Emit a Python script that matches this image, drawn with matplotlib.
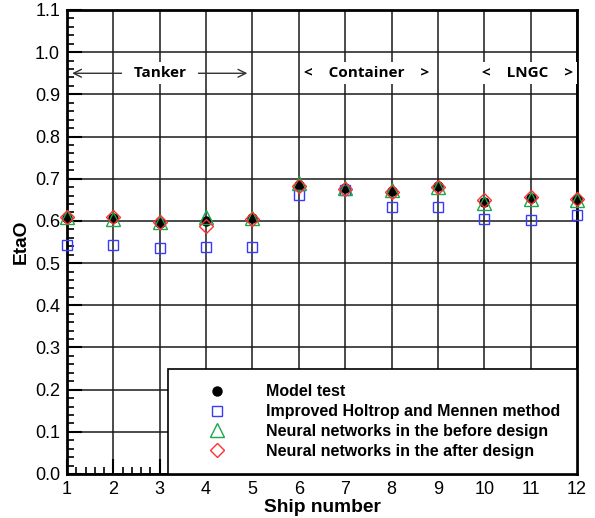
import numpy as np
import matplotlib
matplotlib.use('Agg')
import matplotlib.pyplot as plt
from matplotlib.ticker import MultipleLocator, FormatStrFormatter

plt.rcParams['font.family'] = ['Liberation Sans', 'DejaVu Sans']

# Data
ship = np.arange(1, 13)
model_test = [0.606, 0.607, 0.595, 0.599, 0.606, 0.684, 0.678, 0.670, 0.683, 0.645, 0.654, 0.652]
holtrop = [0.543, 0.543, 0.535, 0.538, 0.538, 0.662, 0.674, 0.634, 0.632, 0.605, 0.602, 0.613]
nn_before = [0.610, 0.604, 0.597, 0.610, 0.608, 0.690, 0.679, 0.674, 0.681, 0.642, 0.651, 0.650]
nn_after = [0.610, 0.610, 0.597, 0.588, 0.605, 0.683, 0.676, 0.668, 0.681, 0.649, 0.656, 0.653]

labels = ['Model test', 'Improved Holtrop and Mennen method',
          'Neural networks in the before design', 'Neural networks in the after design']

fig = plt.figure(figsize=(5.95, 5.18), dpi=100)
ax = fig.add_axes([67 / 595, 1 - 474 / 518, 510 / 595, 464 / 518])

ax.plot(ship, model_test, 'o', color='black', ms=6.5, label=labels[0], clip_on=False, zorder=3)
ax.plot(ship, holtrop, 's', mfc='none', mec='#3a3aff', mew=1.0, ms=7.5, label=labels[1], clip_on=False, zorder=4)
ax.plot(ship, nn_before, '^', mfc='none', mec='#1aa84a', mew=1.0, ms=9.5, label=labels[2], clip_on=False, zorder=4)
ax.plot(ship, nn_after, 'D', mfc='none', mec='#ff3030', mew=1.0, ms=7.5, label=labels[3], clip_on=False, zorder=4)

ax.set_xlim(1, 12)
ax.set_ylim(0, 1.1)
ax.xaxis.set_major_locator(MultipleLocator(1))
ax.xaxis.set_minor_locator(MultipleLocator(0.2))
ax.yaxis.set_major_locator(MultipleLocator(0.1))
ax.yaxis.set_minor_locator(MultipleLocator(0.02))
ax.yaxis.set_major_formatter(FormatStrFormatter('%.1f'))
ax.tick_params(which='major', direction='in', length=11, width=1.5, labelsize=13,
               top=False, right=False, pad=5)
ax.tick_params(which='minor', direction='in', length=5, width=1.2, top=False, right=False)
ax.grid(True, which='major', color='#1a1a1a', lw=1.1)
ax.set_axisbelow(True)
for s in ax.spines.values():
    s.set_linewidth(2)

ax.set_xlabel('Ship number', fontsize=13.8, fontweight='bold', labelpad=1)
ax.set_ylabel('EtaO', fontsize=13.8, fontweight='bold', labelpad=4)

# Ship type annotations
ax.annotate('', xy=(1.05, 0.95), xytext=(4.95, 0.95),
            arrowprops=dict(arrowstyle='<->', color='#333333', lw=1.0, mutation_scale=14), zorder=5)
ann_font = dict(fontsize=11, fontweight='bold', family=['Open Sans', 'DejaVu Sans'], zorder=6,
                ha='center', va='center')
ax.text(3, 0.95, '  Tanker  ', bbox=dict(fc='white', ec='none', pad=3), **ann_font)
ax.text(7.47, 0.95, '<    Container    >', bbox=dict(fc='white', ec='none', pad=3), **ann_font)
ax.text(10.93, 0.95, '<    LNGC    >', bbox=dict(fc='white', ec='none', pad=3), **ann_font)

leg = ax.legend(loc='lower left', bbox_to_anchor=(0.198, 0, 0.802, 0.224), mode='expand',
                borderaxespad=0, fancybox=False, edgecolor='black', framealpha=1,
                prop={'weight': 'bold', 'size': 11.5}, handlelength=4.2, handletextpad=0.96,
                borderpad=0.95, labelspacing=0.3, numpoints=1)
leg.get_frame().set_linewidth(1.2)
leg.set_zorder(10)

fig.savefig('out.png', dpi=100)
